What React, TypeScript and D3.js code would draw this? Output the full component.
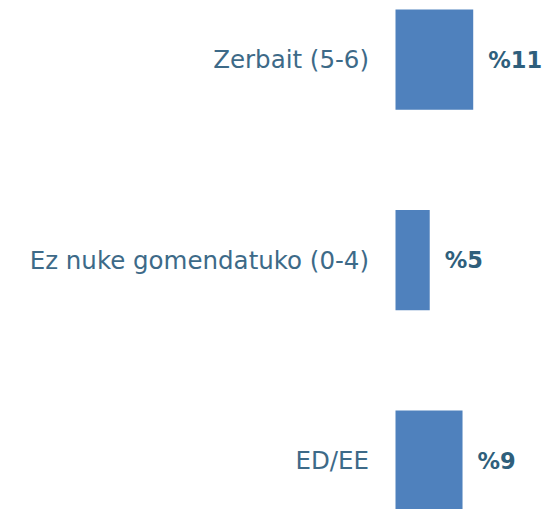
import React from "react";
import * as d3 from "d3";

const categories = ["Zerbait (5-6)", "Ez nuke gomendatuko (0-4)", "ED/EE"];
const values = [10.9, 4.8, 9.4];
const valueLabels = ["%11", "%5", "%9"];

const W = 549;
const H = 509;

export default function App() {
  const x = d3.scaleLinear().domain([0, 10]).range([395.5, 395.5 + 71.3]);
  const y = d3
    .scaleBand<string>()
    .domain(categories)
    .range([9.5, 510.75])
    .paddingInner(0.5)
    .paddingOuter(0);
  const font = "'DejaVu Sans', sans-serif";
  return (
    <svg
      width={W}
      height={H}
      style={{ position: "absolute", left: 0, top: 0, display: "block" }}
    >
      {categories.map((c, i) => {
        const yc = (y(c) as number) + y.bandwidth() / 2;
        return (
          <g key={c}>
            <rect
              x={x(0)}
              y={y(c)}
              width={x(values[i]) - x(0)}
              height={y.bandwidth()}
              fill="#4f81bd"
            />
            <text
              x={369}
              y={yc}
              textAnchor="end"
              dominantBaseline="central"
              fontFamily={font}
              fontSize={24.5}
              fill="#3d6a88"
            >
              {c}
            </text>
            <text
              x={x(values[i]) + 15}
              y={yc}
              dominantBaseline="central"
              fontFamily={font}
              fontSize={22.5}
              fontWeight="bold"
              fill="#2f5f7c"
            >
              {valueLabels[i]}
            </text>
          </g>
        );
      })}
    </svg>
  );
}
